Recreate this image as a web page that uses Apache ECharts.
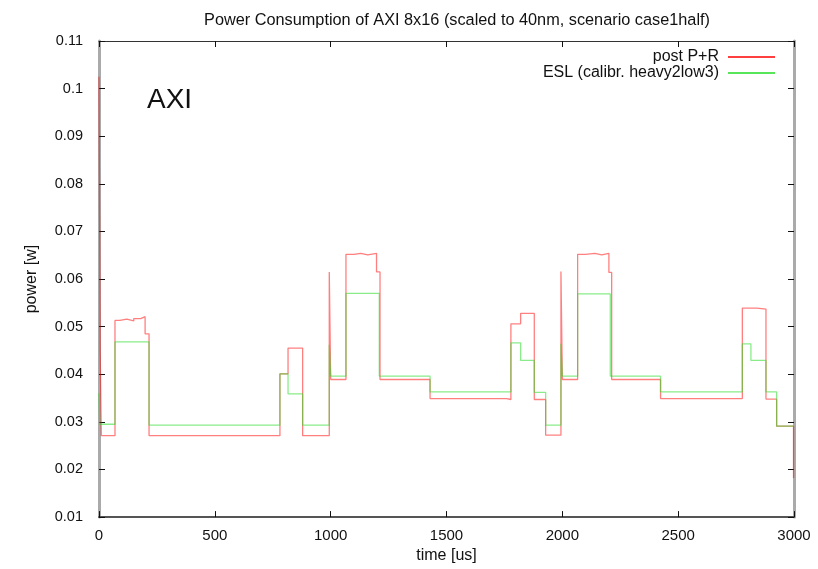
<!DOCTYPE html>
<html>
<head>
<meta charset="utf-8">
<script src="https://cdn.jsdelivr.net/npm/echarts@6/dist/echarts.min.js"></script>
<style>html,body{margin:0;padding:0;background:#fff}#c{width:818px;height:569px}</style>
</head>
<body>
<div id="c"></div>
<script>
// ---- data ----
var titleText = 'Power Consumption of AXI 8x16 (scaled to 40nm, scenario case1half)';
var seriesNames = ['post P+R', 'ESL (calibr. heavy2low3)'];
var xTicks = [0, 500, 1000, 1500, 2000, 2500, 3000];
var yTicks = [0.01, 0.02, 0.03, 0.04, 0.05, 0.06, 0.07, 0.08, 0.09, 0.1, 0.11];

// post P+R: change times (us) and the power held from each time (W)
var redTime  = [0, 5, 10, 69, 90, 120, 150, 180, 199, 216, 781, 816, 879, 994, 1000, 1066, 1100, 1130, 1160, 1198, 1213, 1429, 1760, 1778, 1820, 1879, 1928, 1994, 2000, 2066, 2100, 2140, 2170, 2201, 2213, 2424, 2777, 2840, 2879, 2925, 2998, 3000];
var redPower = [0.1025, 0.045, 0.0271, 0.0513, 0.0516, 0.0512, 0.0517, 0.0521, 0.0485, 0.0271, 0.0401, 0.0455, 0.0271, 0.0615, 0.0389, 0.0652, 0.0654, 0.0651, 0.0654, 0.0615, 0.0389, 0.0349, 0.0347, 0.0506, 0.0528, 0.0347, 0.0272, 0.0616, 0.0389, 0.0652, 0.0654, 0.0651, 0.0654, 0.0614, 0.0389, 0.0349, 0.0539, 0.0537, 0.0348, 0.0291, 0.0182, 0.0182];

// ESL: change times (us) and the power held from each time (W)
var greenTime  = [0, 3, 69, 216, 781, 816, 879, 994, 1000, 1066, 1210, 1429, 1778, 1820, 1879, 1928, 1994, 2000, 2066, 2207, 2424, 2777, 2814, 2879, 2925, 3000];
var greenPower = [0.036, 0.0295, 0.0468, 0.0293, 0.0401, 0.0359, 0.0293, 0.0462, 0.0396, 0.057, 0.0396, 0.0363, 0.0466, 0.0429, 0.0362, 0.0293, 0.0464, 0.0396, 0.0569, 0.0396, 0.0363, 0.0464, 0.0429, 0.0363, 0.0291, 0.0291];

function pairs(t, v) { return t.map(function (x, i) { return [x, v[i]]; }); }

var FONT = 'Liberation Sans';
var chart = echarts.init(document.getElementById('c'), null, {renderer: 'canvas'});
var fmtY = function (v) { return String(parseFloat(v.toFixed(2))); };
var fmtX = function (v) { return String(Math.round(v)); };
var grid = {left: 99, right: 24, top: 41, bottom: 50};

chart.setOption({
  animation: false,
  backgroundColor: '#fff',
  title: {
    text: titleText, left: 452, top: 8, textAlign: 'center',
    textStyle: {fontFamily: FONT, fontSize: 16.3, fontWeight: 'normal', color: '#111'}
  },
  legend: [
    {data: [{name: seriesNames[0], icon: 'rect'}], right: 38, top: 44, align: 'right', orient: 'vertical',
     itemWidth: 47, itemHeight: 1.5, itemGap: 0, textStyle: {fontFamily: FONT, fontSize: 16, color: '#111', padding: [0, 4, 0, 0]}},
    {data: [{name: seriesNames[1], icon: 'rect'}], right: 38, top: 60, align: 'right', orient: 'vertical',
     itemWidth: 47, itemHeight: 1.5, itemGap: 0, textStyle: {fontFamily: FONT, fontSize: 16, color: '#111', padding: [0, 4, 0, 0]}}
  ],
  graphic: [{
    type: 'text', left: 147, top: 86,
    style: {text: 'AXI', fontFamily: FONT, fontSize: 28, fill: '#111'}
  }],
  grid: grid,
  xAxis: [{
    type: 'value', min: 0, max: 3000, interval: 500, position: 'bottom',
    name: 'time [us]', nameLocation: 'middle', nameGap: 29,
    nameTextStyle: {fontFamily: FONT, fontSize: 16, color: '#111'},
    axisLine: {show: true, onZero: false, lineStyle: {color: '#555', width: 2}},
    axisTick: {show: true, inside: true, length: 6, lineStyle: {color: '#111', width: 1}},
    axisLabel: {fontFamily: FONT, fontSize: 15, color: '#111', margin: 11, formatter: fmtX},
    splitLine: {show: false}
  }, {
    type: 'value', min: 0, max: 3000, interval: 500, position: 'top',
    axisLine: {show: true, onZero: false, lineStyle: {color: '#333', width: 1}},
    axisTick: {show: true, inside: true, length: 6, lineStyle: {color: '#111', width: 1}},
    axisLabel: {show: false}, splitLine: {show: false}
  }],
  yAxis: [{
    type: 'value', min: 0.01, max: 0.11, interval: 0.01, position: 'left',
    name: 'power [w]', nameLocation: 'middle', nameGap: 59, nameRotate: 90,
    nameTextStyle: {fontFamily: FONT, fontSize: 16, color: '#111'},
    axisLine: {show: true, onZero: false, lineStyle: {color: '#aaa', width: 3}},
    axisTick: {show: true, inside: true, length: 6, lineStyle: {color: '#111', width: 1}},
    axisLabel: {fontFamily: FONT, fontSize: 14.5, color: '#111', margin: 16, formatter: fmtY},
    splitLine: {show: false}
  }, {
    type: 'value', min: 0.01, max: 0.11, interval: 0.01, position: 'right',
    axisLine: {show: true, onZero: false, lineStyle: {color: '#aaa', width: 3}},
    axisTick: {show: true, inside: true, length: 6, lineStyle: {color: '#111', width: 1}},
    axisLabel: {show: false}, splitLine: {show: false}
  }],
  series: [{
    name: seriesNames[0], type: 'line', step: 'end', showSymbol: false, symbol: 'none',
    data: pairs(redTime, redPower), z: 3,
    itemStyle: {color: '#ff0000'},
    lineStyle: {color: 'rgba(255,0,0,0.5)', width: 1.3}
  }, {
    name: seriesNames[1], type: 'line', step: 'end', showSymbol: false, symbol: 'none',
    data: pairs(greenTime, greenPower), z: 4,
    itemStyle: {color: '#22dd22'},
    lineStyle: {color: 'rgba(40,220,40,0.55)', width: 1.3}
  }]
});
</script>
</body>
</html>
